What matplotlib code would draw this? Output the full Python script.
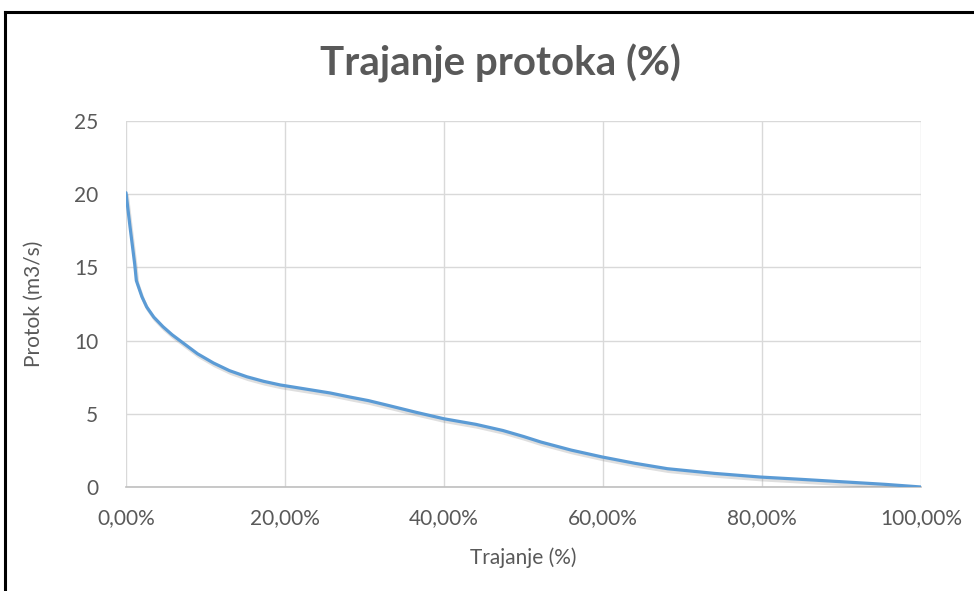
import matplotlib
matplotlib.use("Agg")
import matplotlib.pyplot as plt
import matplotlib.patheffects as pe
from matplotlib.ticker import FuncFormatter
from matplotlib.lines import Line2D

# ── Data ───────────────────────────────────────────────────────────────────
trajanje_pct = [0.0, 0.5, 1.1, 1.3, 2.0, 2.6, 3.5, 4.65, 5.8, 7.2, 9.0, 11.0,
                13.0, 15.2, 17.3, 19.4, 22.5, 25.7, 28.2, 30.5, 33.0, 36.5,
                40.0, 44.0, 47.4, 50.0, 52.2, 56.0, 59.9, 64.0, 68.1, 74.0,
                79.8, 85.0, 90.6, 95.5, 100.0]
protok = [20.1, 17.8, 15.2, 14.1, 13.0, 12.3, 11.6, 10.95, 10.4, 9.83, 9.1, 8.47,
          7.95, 7.53, 7.22, 6.97, 6.70, 6.42, 6.14, 5.90, 5.57, 5.10,
          4.66, 4.28, 3.86, 3.45, 3.07, 2.52, 2.05, 1.62, 1.25, 0.93,
          0.68, 0.52, 0.34, 0.18, 0.0]

x_ticks = [0, 20, 40, 60, 80, 100]
y_ticks = [0, 5, 10, 15, 20, 25]

TEXT  = "#595959"
GRID  = "#D9D9D9"
LINE  = "#5B9BD5"

plt.rcParams["font.family"] = ["Lato", "DejaVu Sans"]

fig = plt.figure(figsize=(9.74, 5.91), dpi=100)
ax = fig.add_axes([126 / 974, 1 - 487 / 591, 795 / 974, 366 / 591])

ax.plot(trajanje_pct, protok, color=LINE, linewidth=2.3, solid_capstyle="round",
        path_effects=[pe.SimpleLineShadow(offset=(1, -2), shadow_color="#808080", alpha=0.25),
                      pe.Normal()], zorder=3)

ax.set_xlim(0, 100)
ax.set_ylim(0, 25)
ax.set_xticks(x_ticks)
ax.set_yticks(y_ticks)
ax.xaxis.set_major_formatter(FuncFormatter(lambda v, p: f"{v:.2f}%".replace(".", ",")))
ax.grid(True, color=GRID, linewidth=1.0)
ax.set_axisbelow(True)
for s in ["top", "right", "left"]:
    ax.spines[s].set_visible(False)
ax.spines["bottom"].set_color("#BFBFBF")
ax.spines["bottom"].set_linewidth(1.2)
ax.tick_params(length=0, labelsize=15, labelcolor=TEXT)
ax.tick_params(axis="x", pad=15)
ax.tick_params(axis="y", pad=20)

ax.set_xlabel("Trajanje (%)", fontsize=15, color=TEXT, labelpad=14)
ax.set_ylabel("Protok (m3/s)", fontsize=15, color=TEXT, labelpad=22)
fig.text(0.514, 1 - 63 / 591, "Trajanje protoka (%)", fontsize=29, fontweight="bold",
         color=TEXT, ha="center", va="center")

# outer frame: only top and left edges visible in the screenshot
fig.add_artist(Line2D([5 / 974, 1], [1 - 12 / 591] * 2, color="black", linewidth=2.2,
                      transform=fig.transFigure))
fig.add_artist(Line2D([5 / 974] * 2, [0, 1 - 12 / 591], color="black", linewidth=2.2,
                      transform=fig.transFigure))

fig.savefig("out.png", dpi=100)
